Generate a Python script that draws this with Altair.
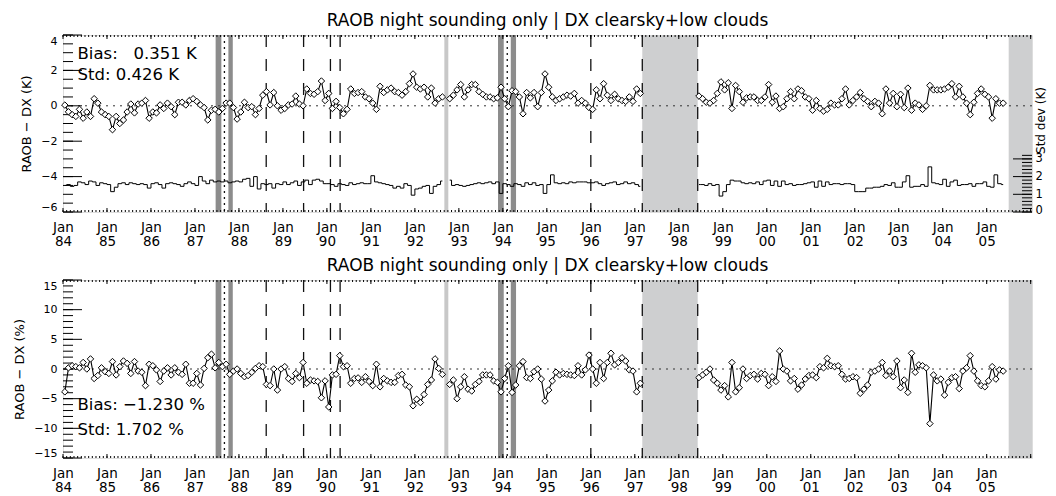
import math
import altair as alt
import pandas as pd

NAN = float("nan")

# ---------------- data ----------------
# Top panel: RAOB - DX temperature difference (K), monthly Jan 1984 - Feb 1997 (Sep 1992 missing)
temp_diff_early = [
    0.04, -0.34, -0.5, -0.6, -0.2, -0.7, -0.35, -0.6, 0.4, 0.15, -0.35, -0.5,      # 1984
    -0.6, -1.35, -0.6, -1.0, -0.8, -0.35, 0.1, -0.4, 0.1, 0.15, 0.3, -0.7,         # 1985
    -0.35, -0.4, 0.05, -0.15, 0.15, -0.05, -0.5, 0.2, 0.2, 0.05, 0.3, 0.4,         # 1986
    0.25, 0.05, -0.1, -0.8, -0.25, -0.2, -0.35, -0.15, 0.15, 0.15, -0.1, -0.75,    # 1987
    -0.35, 0.2, -0.1, -0.05, -0.5, -0.15, 0.6, 0.8, 0.05, 0.75, 0.0, -0.25,        # 1988
    -0.15, 0.05, 0.1, 0.55, 0.1, 0.0, 0.95, 0.7, 0.65, 0.8, 1.4, 0.3,              # 1989
    0.7, -0.15, 0.25, -0.1, -0.45, -0.2, 0.95, 0.7, 0.75, 0.8, 0.5, 0.4,           # 1990
    0.15, -0.2, 1.1, 0.75, 0.9, 1.0, 0.8, 0.75, 0.6, 0.8, 1.25, 1.8,               # 1991
    1.05, 0.95, 1.05, 0.5, 1.0, 0.15, 0.4, 0.5, NAN, 0.4, 0.6, 0.9,                # 1992
    1.2, 0.5, 0.9, 1.2, 1.2, 0.8, 0.65, 0.5, 0.5, 0.4, 0.45, 1.05,                 # 1993
    0.4, -0.05, 0.85, 0.8, 0.5, -0.45, 0.75, 0.45, 0.75, -0.05, 0.75, 1.8,         # 1994
    1.05, 0.5, 0.3, 0.4, 0.5, 0.6, 0.55, 0.7, 0.15, 0.3, 0.15, -0.1,               # 1995
    -0.2, 0.9, 0.4, 1.25, 0.6, 0.3, 0.65, 0.4, 0.3, 0.25, 0.5, 0.25,               # 1996
    0.95, 0.7,                                                                    # 1997
]
# Jun 1998 - May 2005
temp_diff_late = [
    0.55, 0.4, 0.2, 0.15, 0.3, 0.7, 1.35,                                          # 1998
    0.9, 1.3, -0.15, 1.15, 0.8, 0.2, 0.45, 0.5, 0.5, 0.3, 0.3, 0.5,                # 1999
    1.2, 0.2, 0.55, -0.15, -0.05, 0.4, 0.8, 0.4, 0.95, 0.85, 0.5, 0.4,             # 2000
    -0.25, 0.3, -0.15, -0.3, -0.2, 0.15, 0.05, 0.05, 0.4, 0.95, 0.05, 0.3,         # 2001
    0.5, 0.75, 0.4, 0.25, -0.05, 0.25, 0.15, -0.45, 0.95, 0.15, 0.7, -0.05,        # 2002
    0.65, -0.1, 1.0, -0.25, 0.15, 0.05, -0.2, 0.0, 1.15, 0.9, 0.9, 0.9,            # 2003
    0.95, 1.05, 1.25, 0.5, 1.1, 0.5, 0.15, -0.5, 0.2, 0.7, 0.95, 0.65,             # 2004
    0.5, -0.7, 0.4, 0.15, 0.15,                                                    # 2005
]
# Top panel: monthly standard deviation (K), right axis
temp_std_early = [
    1.5, 1.55, 1.45, 1.5, 1.7, 1.65, 1.55, 1.75, 1.7, 1.5, 1.65, 1.6,
    1.55, 1.15, 1.4, 1.6, 1.65, 1.55, 1.65, 1.6, 1.55, 1.6, 1.55, 1.35,
    1.6, 1.65, 1.55, 1.35, 1.6, 1.65, 1.6, 1.55, 1.45, 1.6, 1.7, 1.6,
    1.5, 2.0, 1.75, 1.6, 1.8, 1.7, 1.75, 1.7, 1.75, 1.65, 1.7, 1.75,
    1.7, 1.85, 1.9, 1.45, 2.0, 1.3, 1.6, 1.55, 1.6, 1.35, 1.6, 1.55,
    1.7, 1.55, 1.65, 1.75, 1.5, 1.7, 1.8, 1.55, 1.8, 1.85, 1.75, 1.6,
    1.6, 1.55, 1.45, 1.6, 1.55, 1.5, 1.65, 1.55, 1.6, 1.65, 1.6, 1.6,
    2.05, 1.7, 1.65, 1.6, 1.55, 1.5, 1.35, 1.45, 1.35, 1.6, 1.5, 0.95,
    1.3, 1.35, 1.45, 1.5, 1.05, 1.45, 1.55, 1.75, NAN, 1.8, 1.5, 1.55,
    1.5, 1.45, 1.5, 1.55, 1.6, 1.65, 1.6, 1.65, 1.7, 1.6, 1.7, 1.05,
    1.6, 1.55, 1.45, 1.6, 1.55, 1.45, 1.65, 1.55, 1.65, 1.5, 1.55, 1.05,
    1.55, 2.1, 1.65, 1.6, 1.65, 1.6, 1.7, 1.65, 1.7, 1.7, 1.7, 1.65,
    1.65, 1.7, 1.6, 1.5, 1.6, 1.65, 1.7, 1.55, 1.6, 1.7, 1.6, 1.65,
    1.55, 1.45,
]
temp_std_late = [
    1.55, 1.55, 1.5, 1.6, 1.5, 1.55, 0.9,
    1.15, 1.55, 1.8, 1.75, 1.75, 1.65, 1.6, 1.65, 1.6, 1.7, 1.55, 1.75,
    1.8, 1.5, 1.75, 1.45, 1.75, 1.55, 1.6, 1.5, 1.55, 1.55, 1.6, 1.65,
    1.7, 1.4, 1.75, 1.45, 1.7, 1.55, 1.6, 1.6, 1.55, 1.6, 1.6, 1.55,
    1.15, 1.15, 1.15, 1.35, 1.35, 1.4, 1.4, 1.45, 1.55, 1.5, 1.65, 1.4,
    1.4, 1.7, 2.05, 1.4, 1.45, 1.45, 1.55, 1.45, 2.55, 1.65, 1.6, 1.55,
    1.85, 1.45, 1.7, 1.8, 1.5, 1.55, 1.55, 1.6, 1.45, 1.6, 1.6, 1.7,
    1.45, 1.4, 2.1, 1.6, 1.55,
]
# Bottom panel: RAOB - DX relative difference (%)
pct_diff_early = [
    -3.85, 0.2, 0.55, 0.4, 0.2, 1.1, 0.0, 1.7, -1.6, -1.1, 0.2, -0.45,             # 1984
    -0.75, 1.25, -1.0, 0.4, 1.35, 0.95, -0.75, 1.25, -0.35, -0.55, -2.8, 0.8,      # 1985
    0.55, -0.15, -2.1, -0.35, 0.2, -1.0, 0.2, -0.55, -0.9, 0.8, -2.4, -2.4,        # 1986
    -0.75, -2.7, 0.1, 1.9, 2.5, 0.2, 1.1, 0.4, 0.8, -0.9, -0.35, 0.0,              # 1987
    -0.75, -1.3, -1.1, -0.55, 0.1, 0.55, 0.4, -2.6, -2.8, 0.0, -3.55, 0.0,         # 1988
    0.4, -1.6, -2.1, -0.75, -1.45, 1.1, -2.4, -1.85, -2.0, -2.1, -4.85, -2.0,      # 1989
    -6.4, -1.0, -0.9, 2.25, 0.4, 0.55, -2.4, -1.6, -1.5, -2.25, -1.3, -2.1,        # 1990
    -2.8, 0.8, -3.0, -1.6, -2.0, -2.25, -2.25, -1.1, -0.9, -2.7, -3.0, -6.2,       # 1991
    -5.1, -5.65, -4.3, -2.6, -1.85, 1.7, 0.1, -0.9, NAN, -2.6, -1.85, -5.0,        # 1992
    -3.0, -1.3, -3.4, -3.7, -2.6, -2.1, -1.0, -1.0, -1.0, -2.0, -2.25, -3.85,      # 1993
    -1.6, 0.55, -3.95, -2.7, 0.55, 1.25, -1.45, -1.6, -0.45, 0.0, -1.7, -5.4,      # 1994
    -3.55, -2.0, -0.55, -1.0, -0.75, -0.9, -1.0, -1.1, 0.55, -1.0, -0.15, 2.35,    # 1995
    0.0, -2.4, 1.1, -1.6, 1.1, 2.65, 0.7, 1.1, 1.9, 1.35, -0.15, -0.35,            # 1996
    -3.85, -2.4,                                                                  # 1997
]
pct_diff_late = [
    -1.45, -1.0, -0.55, 0.0, -1.85, -2.4, -3.55,                                   # 1998
    -2.8, -4.7, 1.1, -3.85, -3.15, 0.0, -1.6, -1.1, -0.9, -1.7, -0.75, -0.9,       # 1999
    -2.8, -1.3, -2.1, 3.05, 0.0, -0.35, -2.0, -1.6, -3.4, -2.7, -1.7, -1.1,        # 2000
    -1.0, -1.45, 0.4, 0.2, 1.8, 0.55, 0.4, 0.55, -0.9, -1.7, -1.6, -1.3,           # 2001
    -1.45, -4.1, -3.4, -2.7, -0.55, -0.35, 0.0, 1.1, -1.1, -0.35, -1.3, 1.35,      # 2002
    -3.15, -1.85, -3.95, 2.65, -0.55, 0.7, 0.55, 0.2, -9.2, -1.0, -2.0, -1.7,      # 2003
    -4.4, -2.25, -1.45, -1.3, -3.3, -0.35, 0.2, 2.25, -0.35, -2.0, -2.8, -3.0,     # 2004
    -2.0, 0.4, -1.7, -0.15, -0.35,                                                 # 2005
]

# period markers (decimal years)
light_regions_x0 = [1997.17, 2005.5]
light_regions_x1 = [1998.43, 2006.03]
thin_light_x0 = [1992.67]
thin_light_x1 = [1992.76]
dark_bars_x0 = [1987.47, 1987.76, 1993.89, 1994.18]
dark_bars_x1 = [1987.60, 1987.86, 1994.02, 1994.30]
dashed_events = [1988.62, 1989.47, 1990.08, 1990.30, 1996.0, 1997.17, 1998.43]
dotted_events = [1987.67, 1994.10]

year_ticks = list(range(1984, 2006))
title_text = "RAOB night sounding only | DX clearsky+low clouds"
NB = "\u00a0"
top_notes = ["Bias:" + NB * 3 + "0.351" + NB + "K", "Std:" + NB + "0.426" + NB + "K"]
bot_notes = ["Bias:" + NB + "\u22121.230" + NB + "%", "Std:" + NB + "1.702" + NB + "%"]

# ---------------- tables ----------------
def month_x(year0, month0, n):
    return [year0 + (month0 - 1 + k + 0.5) / 12.0 for k in range(n)]

def series_table(early, late, name):
    xe = month_x(1984, 1, len(early))
    xl = month_x(1998, 6, len(late))
    rows = []
    seg = 0
    for x, v in zip(xe, early):
        if isinstance(v, float) and math.isnan(v):
            seg += 1
            continue
        rows.append({"x": x, name: v, "seg": seg})
    seg += 1
    for x, v in zip(xl, late):
        rows.append({"x": x, name: v, "seg": seg})
    return pd.DataFrame(rows)

top_df = series_table(temp_diff_early, temp_diff_late, "v")
std_df = series_table(temp_std_early, temp_std_late, "s")
bot_df = series_table(pct_diff_early, pct_diff_late, "v")

light_df = pd.DataFrame({"x0": light_regions_x0, "x1": light_regions_x1})
thin_df = pd.DataFrame({"x0": thin_light_x0, "x1": thin_light_x1})
dark_df = pd.DataFrame({"x0": dark_bars_x0, "x1": dark_bars_x1})
dash_df = pd.DataFrame({"x": dashed_events})
dot_df = pd.DataFrame({"x": dotted_events})
zero_df = pd.DataFrame({"y": [0.0]})
month_ticks_df = pd.DataFrame({"x": [1984 + k / 12.0 for k in range(22 * 12 + 1)]})
year_ticks_df = pd.DataFrame({"x": [float(y) for y in range(1984, 2007)]})

# ---------------- styling ----------------
FONT = "DejaVu Sans"
W = 969
H_TOP = 177
H_BOT = 178
MAJ_LEN = 19
MIN_LEN = 10
xscale = alt.Scale(domain=[1984.0, 2006.03], nice=False, zero=False)

X_AXIS = alt.Axis(
    values=year_ticks,
    labelExpr="['Jan', substring(toString(datum.value), 2, 4)]",
    ticks=False, domain=False, grid=False, title=None, labelFlush=False,
    labelPadding=8, labelFontSize=13.5, labelLineHeight=14.5, labelFont=FONT,
    labelColor="black", labelAngle=0, labelOverlap=False,
)


def xq(field):
    return alt.X(f"{field}:Q", scale=xscale, axis=X_AXIS)


def panel(df, notes_text, notes_y, ylab, ydom, y_major, y_minor, H, std=None):
    yscale = alt.Scale(domain=ydom, nice=False, zero=False)
    y_axis = alt.Axis(values=y_major, ticks=False, domain=False, grid=False,
                      labelFlush=True, labelPadding=6, labelFontSize=11,
                      labelFont=FONT, labelColor="black", title=ylab,
                      titleFont=FONT, titleFontSize=13, titleFontWeight="normal",
                      titleColor="black", titlePadding=7, labelOverlap=False)

    def yq(field):
        return alt.Y(f"{field}:Q", scale=yscale, axis=y_axis)

    layers = []
    layers.append(alt.Chart(light_df).mark_rect(color="#cecfd0").encode(
        x=xq("x0"), x2="x1:Q", y=alt.value(0), y2=alt.value(H)))
    layers.append(alt.Chart(thin_df).mark_rect(color="#c8c8c8").encode(
        x=xq("x0"), x2="x1:Q", y=alt.value(0), y2=alt.value(H)))
    layers.append(alt.Chart(dark_df).mark_rect(color="#8c8c8c").encode(
        x=xq("x0"), x2="x1:Q", y=alt.value(0), y2=alt.value(H)))
    layers.append(alt.Chart(dash_df).mark_rule(color="#111", strokeWidth=1.3, strokeDash=[12, 12]).encode(
        x=xq("x"), y=alt.value(0), y2=alt.value(H)))
    layers.append(alt.Chart(dot_df).mark_rule(color="#111", strokeWidth=1.3, strokeDash=[2, 4]).encode(
        x=xq("x"), y=alt.value(0), y2=alt.value(H)))
    layers.append(alt.Chart(zero_df).mark_rule(color="#333", strokeWidth=1, strokeDash=[2, 5]).encode(
        y=yq("y")))
    # inner tick marks on the left frame
    maj = pd.DataFrame({"t": y_major})
    mnr = pd.DataFrame({"t": y_minor})
    layers.append(alt.Chart(maj).mark_rule(color="black", strokeWidth=1).encode(
        y=yq("t"), x=alt.value(0), x2=alt.value(MAJ_LEN)))
    layers.append(alt.Chart(mnr).mark_rule(color="black", strokeWidth=1).encode(
        y=yq("t"), x=alt.value(0), x2=alt.value(MIN_LEN)))
    # tick marks on top/bottom frames
    for tdf, ln in ((month_ticks_df, 2), (year_ticks_df, 4)):
        layers.append(alt.Chart(tdf).mark_rule(color="black", strokeWidth=1).encode(
            x=xq("x"), y=alt.value(0), y2=alt.value(ln)))
        layers.append(alt.Chart(tdf).mark_rule(color="black", strokeWidth=1).encode(
            x=xq("x"), y=alt.value(H), y2=alt.value(H - ln)))
    # series
    layers.append(alt.Chart(df).mark_line(color="black", strokeWidth=1.1).encode(
        x=xq("x"), y=yq("v"), detail="seg:N"))
    layers.append(alt.Chart(df).mark_point(shape="diamond", filled=True, fill="white",
                                           stroke="black", strokeWidth=1, size=42, opacity=1).encode(
        x=xq("x"), y=yq("v")))
    notes = pd.DataFrame({"x": [1984.33, 1984.33], "y": notes_y, "t": notes_text})
    layers.append(alt.Chart(notes).mark_text(align="left", baseline="middle", font=FONT,
                                             fontSize=16.5, color="black").encode(
        x=xq("x"), y=yq("y"), text="t:N"))

    left = alt.layer(*layers)
    if std is None:
        ch = left
    else:
        sscale = alt.Scale(domain=[0, 10], nice=False, zero=False)
        s_axis = alt.Axis(orient="right", values=[0, 1, 2, 3], ticks=False, domain=False,
                          grid=False, labelFlush=True, labelFlushOffset=3, labelPadding=3,
                          labelFontSize=11.5, labelFont=FONT, labelColor="black",
                          title="Std dev (K)", titleFont=FONT, titleFontSize=12,
                          titleFontWeight="normal", titleColor="black", titleAngle=270,
                          titleX=15, titleY=85, labelOverlap=False)
        s_major = pd.DataFrame({"t": [0, 1, 2, 3]})
        s_minor = pd.DataFrame({"t": [round(0.2 * k, 1) for k in range(0, 17)]})
        sl = alt.Chart(std).mark_line(color="black", strokeWidth=1, interpolate="step").encode(
            x=xq("x"), y=alt.Y("s:Q", scale=sscale, axis=s_axis), detail="seg:N")
        st1 = alt.Chart(s_major).mark_rule(color="black", strokeWidth=1).encode(
            y=alt.Y("t:Q", scale=sscale, axis=s_axis), x=alt.value(W), x2=alt.value(W - MAJ_LEN))
        st2 = alt.Chart(s_minor).mark_rule(color="black", strokeWidth=1).encode(
            y=alt.Y("t:Q", scale=sscale, axis=s_axis), x=alt.value(W), x2=alt.value(W - MIN_LEN))
        right = alt.layer(sl, st1, st2)
        ch = alt.layer(left, right).resolve_scale(y="independent")
    return ch.properties(
        width=W, height=H,
        title=alt.TitleParams(title_text, font=FONT, fontSize=17, fontWeight="normal",
                              color="black", anchor="middle", offset=4))


top = panel(top_df, top_notes, [2.9, 1.75], "RAOB \u2212 DX (K)", [-6, 4],
            [-6, -4, -2, 0, 2, 4], [-6 + 0.5 * k for k in range(21)], H_TOP, std=std_df)
bot = panel(bot_df, bot_notes, [-6.1, -10.2], "RAOB \u2212 DX (%)", [-15, 15],
            [-15, -10, -5, 0, 5, 10, 15], list(range(-15, 16)), H_BOT)

chart = alt.vconcat(top, bot, spacing=7).properties(
    padding={"left": 5, "top": 3, "right": 0, "bottom": 0}
).configure_view(stroke="black", strokeWidth=1).configure(background="white")

chart.save("out.html", embed_options={"renderer": "svg", "actions": False})
